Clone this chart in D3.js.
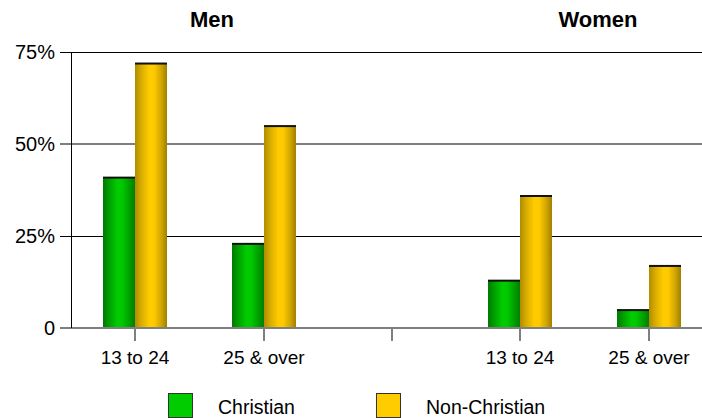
<!DOCTYPE html>
<html><head><meta charset="utf-8">
<script src="https://cdn.jsdelivr.net/npm/d3@7"></script>
<style>body{margin:0;background:#fff}svg{display:block;font-family:"Liberation Sans",Arial,sans-serif}</style>
</head><body><svg id="c" width="702" height="418"></svg>
<script>
const groups = ["Men", "Women"];
const slots = ["Men|13 to 24", "Men|25 & over", "gap", "Women|13 to 24", "Women|25 & over"];
const slotLabels = ["13 to 24", "25 & over", "", "13 to 24", "25 & over"];
const series = ["Christian", "Non-Christian"];
const christian = [41, 23, null, 13, 5];
const nonChristian = [72, 55, null, 36, 17];
const yTicks = [0, 25, 50, 75];
const yTickLabels = ["0", "25%", "50%", "75%"];
const colors = ["#00CC00", "#FFCC00"];

const svg = d3.select("#c");
const x = d3.scaleBand().domain(slots).range([71, 713]).padding(0);
const y = d3.scaleLinear().domain([0, 75]).range([328, 52]);
const inner = d3.scaleBand().domain(series).range([-32, 32]).padding(0);

// gradients
const defs = svg.append("defs");
const grads = [
  [["0%","#007A00"],["20%","#00A000"],["45%","#00CC00"],["60%","#00C800"],["85%","#009A00"],["100%","#007E00"]],
  [["0%","#B08C00"],["20%","#D8AD00"],["45%","#FFCC00"],["60%","#FFCA00"],["85%","#C9A000"],["100%","#A07E00"]]
];
grads.forEach((g,i)=>{
  const lg = defs.append("linearGradient").attr("id","g"+i).attr("x1","0%").attr("x2","100%").attr("y1","0%").attr("y2","0%");
  g.forEach(s=>lg.append("stop").attr("offset",s[0]).attr("stop-color",s[1]));
});

// gridlines
yTicks.forEach((t,i)=>{
  const yy = Math.round(y(t));
  const gray = (t===0 || t===50);
  svg.append("line").attr("x1",60).attr("x2",702).attr("y1",yy+(gray?0:0.5)).attr("y2",yy+(gray?0:0.5))
    .attr("stroke", gray ? "#7f7f7f" : "#000").attr("stroke-width", gray?2:1);
  svg.append("text").attr("x",55).attr("y",yy+7).attr("text-anchor","end")
    .attr("font-size",20).attr("fill","#000").text(yTickLabels[i]);
});
// y axis line
svg.append("line").attr("x1",71.5).attr("x2",71.5).attr("y1",y(75)).attr("y2",y(0)).attr("stroke","#000").attr("stroke-width",1);

// x ticks and labels
slots.forEach((s,i)=>{
  const cx = Math.round(x(s)+x.bandwidth()/2);
  svg.append("line").attr("x1",cx).attr("x2",cx).attr("y1",329).attr("y2",341).attr("stroke","#7f7f7f").attr("stroke-width",2);
  if (slotLabels[i]) svg.append("text").attr("x",cx).attr("y",364).attr("text-anchor","middle").attr("font-size",19).text(slotLabels[i]);
});

// bars
const vals = [christian, nonChristian];
series.forEach((ser,si)=>{
  slots.forEach((s,i)=>{
    const v = vals[si][i];
    if (v==null) return;
    const cx = Math.round(x(s)+x.bandwidth()/2);
    const bx = cx + inner(ser);
    svg.append("rect").attr("x",bx).attr("y",y(v)).attr("width",inner.bandwidth()).attr("height",y(0)-y(v)-1)
      .attr("fill","url(#g"+si+")");
    svg.append("line").attr("x1",bx).attr("x2",bx+inner.bandwidth()).attr("y1",y(v)+0.5).attr("y2",y(v)+0.5)
      .attr("stroke","#111").attr("stroke-width",2);
  });
});

// group titles
const titleX = [212, 598];
groups.forEach((g,i)=>{
  svg.append("text").attr("x",titleX[i]).attr("y",27).attr("text-anchor","middle")
    .attr("font-size",22).attr("font-weight","bold").text(g);
});

// legend
const legX = [168, 376];
series.forEach((ser,i)=>{
  svg.append("rect").attr("x",legX[i]+0.5).attr("y",393.5).attr("width",24).attr("height",24)
    .attr("fill",colors[i]).attr("stroke","#333").attr("stroke-width",1);
  svg.append("text").attr("x",legX[i]+50).attr("y",414).attr("font-size",19.5).text(ser);
});
</script></body></html>
